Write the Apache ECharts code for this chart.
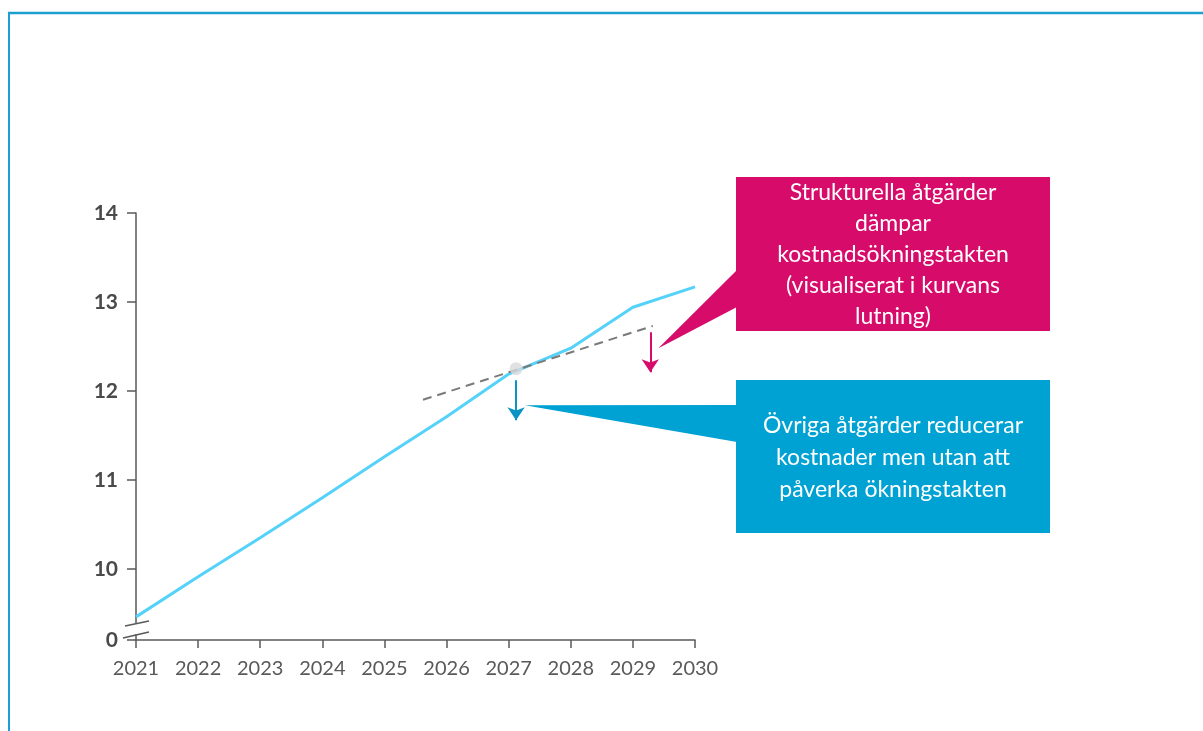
<!DOCTYPE html>
<html>
<head>
<meta charset="utf-8">
<script src="https://cdn.jsdelivr.net/npm/echarts@6/dist/echarts.min.js"></script>
<style>
  html, body { margin: 0; padding: 0; background: #ffffff; }
  #chart { width: 1203px; height: 731px; }
</style>
</head>
<body>
<div id="chart"></div>
<script>
// Kostnadsutveckling 2021–2030
const years = [2021, 2022, 2023, 2024, 2025, 2026, 2027, 2028, 2029, 2030];
const costs = [9.46, 9.91, 10.35, 10.80, 11.26, 11.71, 12.19, 12.48, 12.94, 13.17];

// Lutningslinje (streckad) genom brytpunkten
const trendX = [2025.62, 2029.32];
const trendY = [11.90, 12.73];
const pivotPoint = [2027.12, 12.25];

// Pilar: [x, från, till]
const blueArrow = [2027.12, 12.12, 11.67];
const pinkArrow = [2029.28, 12.66, 12.21];

// Pratbubblornas spetsar (datakoordinater)
const pinkTip = [2029.41, 12.48];
const blueTip = [2027.26, 11.84];

// Y-axelns skala (brutet axelavsnitt nedtill, visas som 0)
const yAxisMin = 9.2;
const yAxisMax = 14;
const yTickValues = [9.2, 10, 11, 12, 13, 14];
const yTickLabels = ['0', '10', '11', '12', '13', '14'];

const pinkText = 'Strukturella åtgärder\ndämpar\nkostnadsökningstakten\n(visualiserat i kurvans\nlutning)';
const blueText = 'Övriga åtgärder reducerar\nkostnader men utan att\npåverka ökningstakten';

const AXIS = '#595959';
const LINE = '#55d2fa';
const PINK = '#d60b6a';
const BLUE = '#00a1d3';
const FRAME = '#1d9fcf';

const chart = echarts.init(document.getElementById('chart'), null, { renderer: 'canvas' });

function yLabel(v) {
  const i = yTickValues.findIndex(t => Math.abs(t - v) < 1e-6);
  return i >= 0 ? yTickLabels[i] : '';
}

chart.setOption({
  animation: false,
  backgroundColor: '#ffffff',
  grid: { left: 136, right: 508, top: 213, bottom: 91, containLabel: false },
  xAxis: {
    type: 'value',
    min: years[0],
    max: years[years.length - 1],
    interval: 1,
    axisLine: { show: true, lineStyle: { color: AXIS, width: 1.5 } },
    axisTick: { show: true, length: 8, lineStyle: { color: AXIS, width: 1.5 } },
    axisLabel: {
      margin: 19,
      color: AXIS,
      fontFamily: 'Lato',
      fontSize: 20,
      formatter: v => String(v)
    },
    splitLine: { show: false }
  },
  yAxis: {
    type: 'value',
    min: yAxisMin,
    max: yAxisMax,
    axisLine: { show: true, lineStyle: { color: AXIS, width: 1.5 } },
    axisTick: { show: true, length: 9, customValues: yTickValues, lineStyle: { color: AXIS, width: 1.5 } },
    axisLabel: {
      customValues: yTickValues,
      margin: 18,
      color: '#4a4a4a',
      fontFamily: 'Lato',
      fontWeight: 'bold',
      fontSize: 21,
      formatter: yLabel
    },
    splitLine: { show: false }
  },
  series: [
    {
      name: 'Kostnad',
      type: 'line',
      data: years.map((y, i) => [y, costs[i]]),
      showSymbol: false,
      symbol: 'none',
      lineStyle: { color: LINE, width: 3 },
      z: 3
    },
    {
      name: 'Lutning',
      type: 'line',
      data: trendX.map((x, i) => [x, trendY[i]]),
      symbol: 'none',
      lineStyle: { color: '#7a7a7a', width: 2, type: [9, 6] },
      z: 4
    },
    {
      name: 'Brytpunkt',
      type: 'scatter',
      data: [pivotPoint],
      symbol: 'circle',
      symbolSize: 13,
      itemStyle: { color: '#d9d9d9' },
      z: 5
    },
    {
      name: 'Pilar',
      type: 'line',
      data: [],
      markLine: {
        silent: true,
        animation: false,
        symbol: ['none', 'arrow'],
        symbolSize: 13,
        label: { show: false },
        data: [
          [
            { coord: [blueArrow[0], blueArrow[1]], lineStyle: { color: '#0b93c6', width: 2, type: 'solid' }, itemStyle: { color: '#0b93c6' } },
            { coord: [blueArrow[0], blueArrow[2]] }
          ],
          [
            { coord: [pinkArrow[0], pinkArrow[1]], lineStyle: { color: PINK, width: 2, type: 'solid' }, itemStyle: { color: PINK } },
            { coord: [pinkArrow[0], pinkArrow[2]] }
          ]
        ]
      }
    }
  ]
});

// Pratbubblor, axelbrott och ram
function bubble(box, attachTop, attachBottom, tip, color, text, lineHeight) {
  const p = chart.convertToPixel({ gridIndex: 0 }, tip);
  return [
    {
      type: 'polygon',
      shape: { points: [[box.x + 1, attachTop], [p[0], p[1]], [box.x + 1, attachBottom]] },
      style: { fill: color },
      z: 10
    },
    {
      type: 'rect',
      shape: { x: box.x, y: box.y, width: box.w, height: box.h },
      style: { fill: color },
      z: 10
    },
    {
      type: 'text',
      x: box.x + box.w / 2,
      y: box.y + box.h / 2 + 1,
      style: {
        text: text,
        fill: '#ffffff',
        font: '23px Lato',
        align: 'center',
        verticalAlign: 'middle',
        lineHeight: lineHeight
      },
      z: 11
    }
  ];
}

const origin = chart.convertToPixel({ gridIndex: 0 }, [years[0], yAxisMin]);
const ox = origin[0], oy = origin[1];

const graphics = [
  // ram
  { type: 'line', shape: { x1: 8, y1: 13, x2: 1203, y2: 13 }, style: { stroke: FRAME, lineWidth: 2.5 }, z: 20 },
  { type: 'line', shape: { x1: 9, y1: 12, x2: 9, y2: 731 }, style: { stroke: FRAME, lineWidth: 2 }, z: 20 },
  // axelbrott
  { type: 'rect', shape: { x: ox - 3, y: oy - 17, width: 6, height: 11 }, style: { fill: '#ffffff' }, z: 20 },
  { type: 'line', shape: { x1: ox - 11, y1: oy - 14, x2: ox + 13, y2: oy - 19 }, style: { stroke: AXIS, lineWidth: 1.5 }, z: 21 },
  { type: 'line', shape: { x1: ox - 13, y1: oy - 2, x2: ox + 13, y2: oy - 8 }, style: { stroke: AXIS, lineWidth: 1.5 }, z: 21 }
];

graphics.push(...bubble({ x: 736, y: 177, w: 314, h: 154 }, 270, 307, pinkTip, PINK, pinkText, 31));
graphics.push(...bubble({ x: 736, y: 380, w: 314, h: 153 }, 405, 442, blueTip, BLUE, blueText, 32));

chart.setOption({ graphic: graphics });
</script>
</body>
</html>
